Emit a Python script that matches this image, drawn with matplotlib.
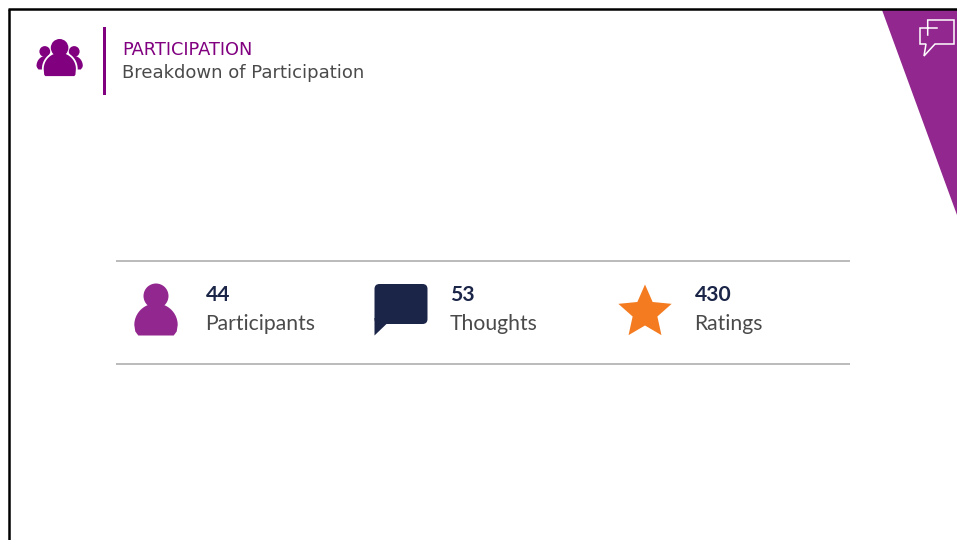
import os
import numpy as np
import matplotlib
matplotlib.use("Agg")
import matplotlib.pyplot as plt
from matplotlib.font_manager import FontProperties
from matplotlib.patches import Circle, Polygon, FancyBboxPatch, Rectangle

# Content
title = "PARTICIPATION"
subtitle = "Breakdown of Participation"
stat_values = ["44", "53", "430"]
stat_labels = ["Participants", "Thoughts", "Ratings"]
stat_x = [206, 450.5, 695]

PURPLE = "#92278f"
DARK_PURPLE = "#800080"
NAVY = "#1b2548"
ORANGE = "#f47b20"
GREY = "#4a4a4a"
RULE = "#a8a8a8"

fig = plt.figure(figsize=(9.57, 5.40), dpi=100, facecolor="white")
ax = fig.add_axes([0, 0, 1, 1])
ax.set_xlim(0, 957)
ax.set_ylim(540, 0)
ax.axis("off")

dejavu = os.path.join(matplotlib.get_data_path(), "fonts", "ttf", "DejaVuSans.ttf")


def dome(cx, top, half_w, bottom, belly, corner=2.0):
    """Closed outline of a shoulder shape: elliptical top, flat rounded base."""
    t = np.linspace(np.pi, 2 * np.pi, 60)
    xs = cx + half_w * np.cos(t)
    ys = belly + (belly - top) * np.sin(t)
    pts = [(cx - half_w + corner, bottom), (cx - half_w + corner * 0.25, bottom - corner)]
    pts += list(zip(xs, ys))
    pts += [(cx + half_w - corner * 0.25, bottom - corner), (cx + half_w - corner, bottom)]
    return np.array(pts)


# frame
ax.plot([9, 9], [540, 9], color="black", lw=1.8, solid_capstyle="butt", zorder=5)
ax.plot([8, 957], [9, 9], color="black", lw=1.8, solid_capstyle="butt", zorder=5)

# corner wedge
ax.add_patch(Polygon([(882, 10), (957, 10), (957, 215)], closed=True, fc=PURPLE, ec="none", zorder=2))

# chat icon in wedge
w = dict(color="white", lw=1.1, zorder=3, solid_joinstyle="miter")
ax.plot([927.7, 927.7, 954, 954, 935, 924, 926, 920, 920, 937],
        [35, 20, 20, 44, 44, 56, 44, 44, 28, 28], **w)

# header icon
for cx in (44.8, 74.2):
    ax.add_patch(Circle((cx, 51.5), 5.4, fc=DARK_PURPLE, ec="none", zorder=2))
ax.add_patch(Polygon(dome(45.5, 56, 9, 69.5, 66), closed=True, fc=DARK_PURPLE, ec="none", zorder=2))
ax.add_patch(Polygon(dome(73.8, 56, 9, 69.5, 66), closed=True, fc=DARK_PURPLE, ec="none", zorder=2))
ax.add_patch(Polygon(dome(59.8, 52, 17, 77, 69), closed=True, fc=DARK_PURPLE, ec="white", lw=1.3, zorder=3))
ax.add_patch(Circle((59.6, 47.8), 8.8, fc=DARK_PURPLE, ec="none", zorder=4))

ax.add_patch(Rectangle((103, 27), 3, 68, fc=DARK_PURPLE, ec="none", zorder=2))
ax.text(122, 55, title, fontproperties=FontProperties(fname=dejavu, size=12.8), color=DARK_PURPLE,
        va="baseline", ha="left")
ax.text(122, 78.5, subtitle, fontproperties=FontProperties(fname=dejavu, size=13.0), color=GREY,
        va="baseline", ha="left")

# rules
for y in (261, 364):
    ax.plot([115.5, 850], [y, y], color=RULE, lw=1.1, solid_capstyle="butt", zorder=2)

# person icon
ax.add_patch(Circle((156, 296), 12.5, fc=PURPLE, ec="none", zorder=3))
ax.add_patch(Polygon(dome(156, 303.5, 21.7, 335.5, 325, corner=4.0), closed=True, fc=PURPLE, ec="none", zorder=3))

# bubble icon
ax.add_patch(FancyBboxPatch((379.5, 289), 43, 30, boxstyle="round,pad=5,rounding_size=5",
                            fc=NAVY, ec="none", zorder=3))
ax.add_patch(Polygon([(374.5, 318), (374.5, 335.5), (387, 323.5), (380, 318)], closed=True,
                     fc=NAVY, ec="none", zorder=3))

# star icon
cx, cy, R, r = 645, 312.5, 28, 13.0
ang = np.arange(10) * np.pi / 5
rad = np.where(np.arange(10) % 2 == 0, R, r)
ax.add_patch(Polygon(np.c_[cx + rad * np.sin(ang), cy - rad * np.cos(ang)], closed=True,
                     fc=ORANGE, ec="none", zorder=3))

# stats
for x, v, l in zip(stat_x, stat_values, stat_labels):
    ax.text(x, 301, v, family="Lato", weight="bold", fontsize=15.2, color=NAVY, va="baseline", ha="left")
    ax.text(x - 1, 329.5, l, family="Lato", fontsize=15.2, color=GREY, va="baseline", ha="left")

fig.savefig("out.png", dpi=100, facecolor="white")
